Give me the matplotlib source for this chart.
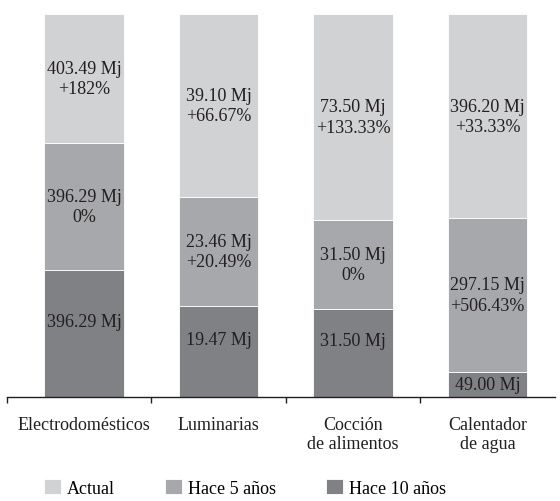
import numpy as np
import matplotlib.pyplot as plt

# datos (Mj) por categoría
categorias = ['Electrodomésticos', 'Luminarias', 'Cocción\nde alimentos', 'Calentador\nde agua']
series = ['Actual', 'Hace 5 años', 'Hace 10 años']
hace_10 = [396.29, 19.47, 31.50, 49.00]
hace_5 = [396.29, 23.46, 31.50, 297.15]
actual = [403.49, 39.10, 73.50, 396.20]
cambio_5 = ['0%', '+20.49%', '0%', '+506.43%']
cambio_actual = ['+182%', '+66.67%', '+133.33%', '+33.33%']

colores = {'Actual': '#d1d2d4', 'Hace 5 años': '#a7a8ab', 'Hace 10 años': '#808184'}

plt.rcParams['font.family'] = ['Liberation Serif', 'DejaVu Serif']

fig = plt.figure(figsize=(5.6, 5.02), dpi=100)
# ejes: línea base en y=398 px, x de 7 a 555 px
ax = fig.add_axes([7 / 560, (502 - 398) / 502, 548 / 560, 383 / 502])

x = np.arange(len(categorias))
total = np.array(hace_10) + np.array(hace_5) + np.array(actual)
p10 = np.array(hace_10) / total * 100
p5 = np.array(hace_5) / total * 100
pa = np.array(actual) / total * 100

ancho = 0.59
kw = dict(width=ancho, edgecolor='white', linewidth=0.6)
ax.bar(x, p10, color=colores['Hace 10 años'], label='Hace 10 años', **kw)
ax.bar(x, p5, bottom=p10, color=colores['Hace 5 años'], label='Hace 5 años', **kw)
ax.bar(x, pa, bottom=p10 + p5, color=colores['Actual'], label='Actual', **kw)

fs = 13
for i in range(len(categorias)):
    # segmento inferior (una sola línea, un poco por encima del centro)
    dy = 12 if p10[i] > 15 else 0
    ax.annotate(f'{hace_10[i]:.2f} Mj', (x[i], p10[i] / 2), xytext=(0, dy),
                textcoords='offset pixels', ha='center', va='center',
                fontsize=fs, color='#231f20')
    ax.text(x[i], p10[i] + p5[i] / 2, f'{hace_5[i]:.2f} Mj\n{cambio_5[i]}',
            ha='center', va='center', fontsize=fs, color='#231f20', linespacing=1.25)
    ax.text(x[i], p10[i] + p5[i] + pa[i] / 2, f'{actual[i]:.2f} Mj\n{cambio_actual[i]}',
            ha='center', va='center', fontsize=fs, color='#231f20', linespacing=1.25)

ax.set_xlim(-0.572, 3.50)
ax.set_ylim(0, 100)
ax.set_yticks([])
for s in ['top', 'right', 'left']:
    ax.spines[s].set_visible(False)
ax.spines['bottom'].set_color('#231f20')
ax.spines['bottom'].set_linewidth(1.0)

ax.set_xticks(x)
ax.set_xticklabels(categorias, fontsize=fs, color='#231f20', linespacing=1.15)
ax.tick_params(axis='x', which='major', length=0, pad=14)
ax.set_xticks([-0.572, 0.5, 1.5, 2.5], minor=True)
ax.tick_params(axis='x', which='minor', length=4, width=1.0, color='#231f20', direction='out')

handles, labels = ax.get_legend_handles_labels()
orden = [labels.index(s) for s in series]
fig.legend([handles[k] for k in orden], series, loc='center left',
           bbox_to_anchor=(44 / 560, 13 / 502), ncol=3, frameon=False,
           fontsize=fs, handlelength=0.95, handleheight=0.9, handletextpad=0.3,
           columnspacing=2.8, borderpad=0, borderaxespad=0)

fig.savefig('out.png', dpi=100)
